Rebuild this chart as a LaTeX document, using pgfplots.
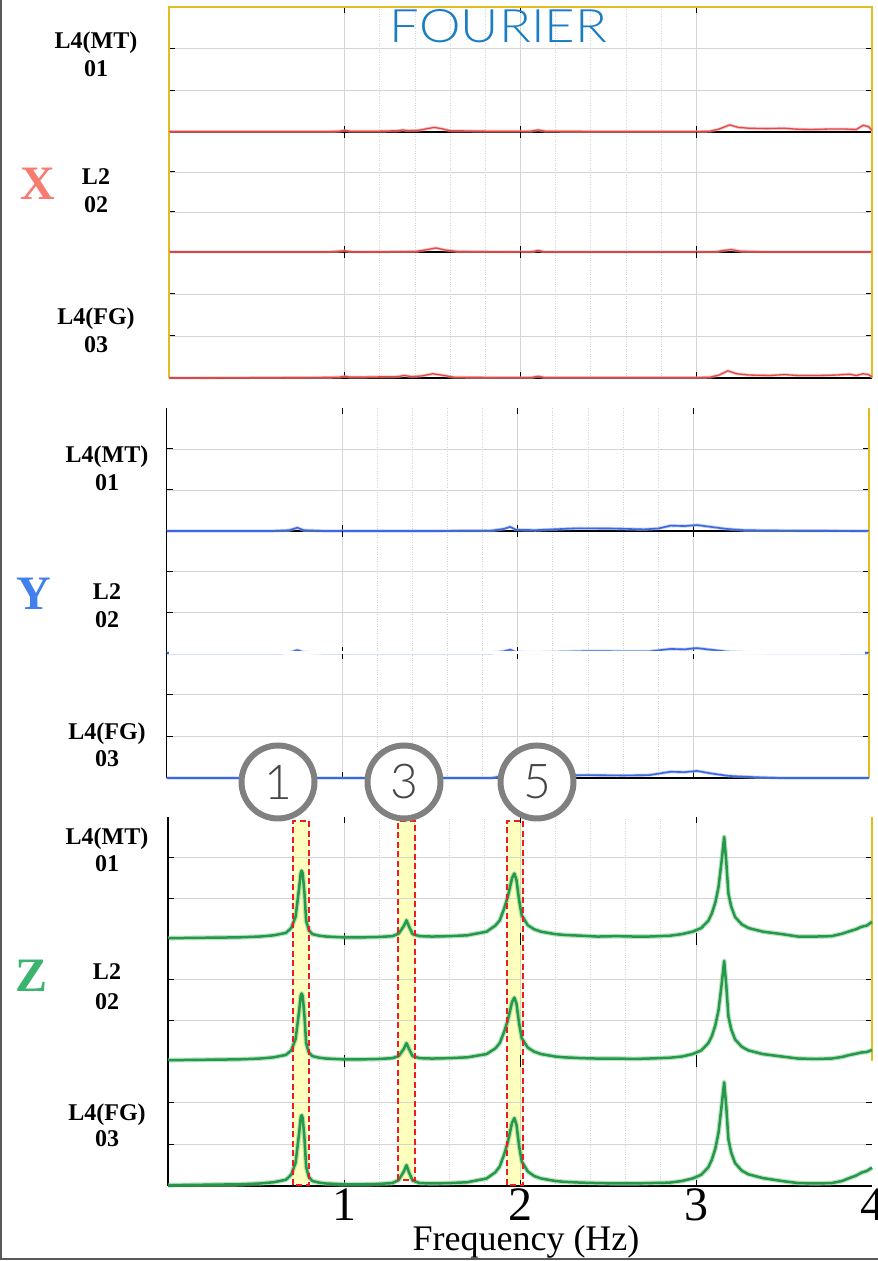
\documentclass[border=0pt]{standalone}
\usepackage{fontspec}
\setmainfont{Liberation Serif}
\newfontfamily\tickfont{Liberation Serif}
\IfFontExistsTF{Lato Light}{\newfontfamily\thinfont{Lato Light}}{\newfontfamily\thinfont{Lato}}
\usepackage{graphicx}
\usepackage{pgfplots}
\usepackage{pgfplotstable}
\pgfplotsset{compat=1.18}

\definecolor{gridgray}{RGB}{212,212,212}
\definecolor{frameyellow}{RGB}{228,188,30}
\definecolor{xred}{RGB}{226,72,72}
\definecolor{xpink}{RGB}{242,160,160}
\definecolor{yblue}{RGB}{62,104,222}
\definecolor{ylight}{RGB}{150,178,240}
\definecolor{zgreen}{RGB}{38,152,74}
\definecolor{zlight}{RGB}{130,205,145}
\definecolor{labX}{RGB}{248,122,112}
\definecolor{labY}{RGB}{66,128,238}
\definecolor{labZ}{RGB}{58,180,110}
\definecolor{fourier}{RGB}{26,125,196}
\definecolor{hilite}{RGB}{255,255,190}
\definecolor{boxred}{RGB}{238,28,28}
\definecolor{ringgray}{RGB}{128,128,128}
\definecolor{digitgray}{RGB}{70,70,70}
\definecolor{framegray}{RGB}{90,90,90}

% ---------- spectra (amplitude in grid units, 3 units per panel) ----------
\pgfplotstableread{
f a
0 0.01
0.50 0.01
0.90 0.01
0.97 0.02
1.00 0.04
1.03 0.02
1.20 0.02
1.30 0.03
1.33 0.05
1.36 0.03
1.42 0.04
1.47 0.08
1.51 0.11
1.55 0.08
1.60 0.03
1.80 0.02
2.06 0.02
2.10 0.05
2.14 0.02
2.50 0.01
3.00 0.01
3.08 0.02
3.13 0.07
3.19 0.17
3.24 0.11
3.30 0.09
3.40 0.08
3.50 0.09
3.56 0.07
3.65 0.06
3.75 0.07
3.85 0.07
3.91 0.06
3.95 0.16
3.98 0.13
4.00 0.04
}\xA
\pgfplotstableread{
f a
0 0.00
0.90 0.00
1.00 0.03
1.05 0.00
1.40 0.01
1.47 0.06
1.52 0.10
1.57 0.05
1.65 0.01
2.06 0.00
2.10 0.04
2.14 0.00
3.10 0.00
3.16 0.04
3.20 0.06
3.25 0.02
3.40 0.00
4.00 0.00
}\xB
\pgfplotstableread{
f a
0 0.00
0.80 0.01
0.97 0.02
1.00 0.04
1.03 0.02
1.30 0.03
1.34 0.06
1.38 0.03
1.44 0.05
1.50 0.10
1.55 0.07
1.62 0.02
1.90 0.01
2.06 0.01
2.10 0.04
2.14 0.01
3.00 0.01
3.08 0.02
3.13 0.07
3.18 0.17
3.23 0.10
3.30 0.07
3.42 0.06
3.50 0.08
3.58 0.06
3.70 0.06
3.80 0.07
3.87 0.09
3.91 0.06
3.95 0.10
3.98 0.08
4.00 0.03
}\xC
\pgfplotstableread{
f a
0 0.00
0.60 0.00
0.70 0.02
0.745 0.08
0.78 0.02
0.90 0.00
1.50 0.00
1.85 0.01
1.92 0.05
1.957 0.10
1.99 0.03
2.10 0.02
2.20 0.04
2.34 0.065
2.53 0.06
2.72 0.04
2.80 0.06
2.87 0.13
2.95 0.12
3.02 0.145
3.10 0.10
3.19 0.05
3.29 0.02
3.50 0.01
4.00 0.00
}\yA
\pgfplotstableread{
f a
0 0.00
0.65 0.00
0.71 0.02
0.745 0.07
0.78 0.02
0.90 0.00
1.85 0.00
1.92 0.04
1.957 0.08
1.99 0.02
2.10 0.01
2.25 0.03
2.40 0.045
2.60 0.04
2.75 0.04
2.87 0.10
2.95 0.09
3.02 0.12
3.10 0.08
3.20 0.03
3.30 0.01
4.00 0.00
}\yB
\pgfplotstableread{
f a
0 0.00
0.70 0.00
0.745 0.07
0.79 0.00
1.85 0.00
1.957 0.08
2.05 0.04
2.20 0.06
2.40 0.07
2.60 0.06
2.75 0.07
2.87 0.15
2.95 0.14
3.02 0.17
3.10 0.11
3.20 0.05
3.35 0.02
3.50 0.00
4.00 0.00
}\yC
\pgfplotstableread{
f a
0 0.02
0.2 0.03
0.4 0.04
0.52 0.06
0.6 0.09
0.67 0.15
0.70 0.27
0.725 0.55
0.745 1.25
0.754 1.62
0.759 1.68
0.765 1.62
0.775 1.15
0.785 0.45
0.80 0.22
0.82 0.12
0.86 0.08
0.9 0.06
1.0 0.04
1.1 0.04
1.2 0.05
1.275 0.07
1.31 0.13
1.34 0.32
1.355 0.46
1.37 0.30
1.39 0.12
1.43 0.07
1.5 0.06
1.6 0.07
1.7 0.09
1.81 0.18
1.86 0.33
1.885 0.46
1.91 0.75
1.93 1.03
1.955 1.50
1.968 1.61
1.98 1.45
1.995 0.95
2.01 0.58
2.044 0.34
2.08 0.24
2.12 0.18
2.2 0.12
2.25 0.10
2.35 0.08
2.44 0.06
2.55 0.07
2.65 0.06
2.73 0.06
2.85 0.08
2.92 0.12
2.98 0.18
3.03 0.27
3.07 0.45
3.09 0.63
3.11 0.9
3.128 1.28
3.145 1.9
3.16 2.51
3.172 1.9
3.184 1.12
3.20 0.8
3.222 0.54
3.26 0.36
3.298 0.27
3.38 0.18
3.488 0.12
3.58 0.06
3.68 0.06
3.77 0.07
3.83 0.13
3.865 0.18
3.91 0.24
3.94 0.30
3.97 0.33
4.0 0.42
}\zA
\pgfplotstableread{
f a
0 0.02
0.2 0.03
0.4 0.04
0.52 0.06
0.6 0.09
0.67 0.15
0.70 0.26
0.725 0.54
0.745 1.23
0.754 1.60
0.759 1.66
0.765 1.60
0.775 1.13
0.785 0.44
0.80 0.21
0.82 0.12
0.86 0.08
0.9 0.06
1.0 0.04
1.1 0.04
1.2 0.05
1.275 0.07
1.31 0.12
1.34 0.30
1.355 0.44
1.37 0.29
1.39 0.12
1.43 0.07
1.5 0.06
1.6 0.07
1.7 0.09
1.81 0.17
1.86 0.31
1.885 0.44
1.91 0.72
1.93 0.99
1.955 1.45
1.968 1.56
1.98 1.41
1.995 0.92
2.01 0.56
2.044 0.33
2.08 0.23
2.12 0.17
2.2 0.11
2.25 0.09
2.35 0.07
2.44 0.06
2.55 0.06
2.65 0.05
2.73 0.06
2.85 0.08
2.92 0.11
2.98 0.17
3.03 0.26
3.07 0.44
3.09 0.61
3.11 0.88
3.128 1.25
3.145 1.86
3.16 2.46
3.172 1.86
3.184 1.10
3.20 0.78
3.222 0.53
3.26 0.35
3.298 0.26
3.38 0.17
3.488 0.11
3.58 0.06
3.68 0.05
3.77 0.06
3.83 0.10
3.865 0.14
3.91 0.18
3.94 0.21
3.97 0.22
4.0 0.27
}\zB
\pgfplotstableread{
f a
0 0.02
0.2 0.03
0.4 0.04
0.52 0.06
0.6 0.09
0.67 0.15
0.70 0.27
0.725 0.56
0.745 1.27
0.754 1.64
0.759 1.70
0.765 1.64
0.775 1.17
0.785 0.46
0.80 0.22
0.82 0.12
0.86 0.08
0.9 0.06
1.0 0.04
1.1 0.04
1.2 0.05
1.275 0.07
1.31 0.14
1.34 0.35
1.355 0.50
1.37 0.32
1.39 0.13
1.43 0.07
1.5 0.06
1.6 0.07
1.7 0.09
1.81 0.18
1.86 0.33
1.885 0.47
1.91 0.76
1.93 1.04
1.955 1.52
1.968 1.63
1.98 1.47
1.995 0.96
2.01 0.59
2.044 0.35
2.08 0.24
2.12 0.18
2.2 0.12
2.25 0.10
2.35 0.08
2.44 0.07
2.55 0.06
2.65 0.06
2.73 0.07
2.85 0.08
2.92 0.12
2.98 0.18
3.03 0.27
3.07 0.45
3.09 0.63
3.11 0.90
3.128 1.28
3.145 1.90
3.16 2.49
3.172 1.90
3.184 1.12
3.20 0.80
3.222 0.55
3.26 0.37
3.298 0.28
3.38 0.19
3.488 0.12
3.58 0.07
3.68 0.06
3.77 0.07
3.83 0.12
3.865 0.18
3.91 0.25
3.94 0.32
3.97 0.36
4.0 0.44
}\zC

\pgfplotsset{
  panel/.style={
    scale only axis, clip=false,
    xmin=0, xmax=4, ymin=0, ymax=3,
    xtick={1,2,3}, ytick={1,2}, minor x tick num=4,
    xticklabels={}, yticklabels={},
    xmajorgrids, ymajorgrids, xminorgrids,
    major grid style={draw=gridgray, line width=0.9pt},
    minor grid style={draw=gridgray, dotted, line width=0.9pt},
    tick align=inside, tick pos=both,
    major tick length=6pt, minor tick length=0pt,
    every tick/.style={black, line width=1pt},
    axis line style={draw=none},
  },
  xcurve/.style={xred, line width=1.3pt, line join=round},
  xhalo/.style={xpink, line width=3pt, opacity=0.6, line join=round},
  ycurve/.style={yblue, line width=1.6pt, line join=round},
  yhalo/.style={ylight, line width=3.2pt, opacity=0.6, line join=round},
  zcurve/.style={zgreen, line width=2.5pt, line join=round},
  zhalo/.style={zlight, line width=4.8pt, opacity=0.55, line join=round},
  overlay/.style={scale only axis, hide axis, clip=false,
    xmin=0, xmax=4, ymin=0, ymax=1},
}

\newcommand{\panellabel}{\fontsize{24}{27}\bfseries}
\newcommand{\dirlabel}{\fontsize{48}{48}\bfseries}

\begin{document}
\begin{tikzpicture}
\useasboundingbox (0pt,0pt) rectangle (878pt,1261pt);

% ---------- highlighted modes (fill, below the Z spectra) ----------
\begin{axis}[overlay, at={(168pt,75pt)}, width=704pt, height=369pt]
  \fill[hilite] (axis cs:0.710,0.003) rectangle (axis cs:0.801,0.989);
  \fill[hilite] (axis cs:1.307,0.016) rectangle (axis cs:1.403,0.989);
  \fill[hilite] (axis cs:1.926,0.003) rectangle (axis cs:2.017,0.989);
\end{axis}

% ================= X direction =================
\begin{axis}[panel, at={(169pt,1129pt)}, width=703pt, height=125pt]
  \draw[black, line width=1.2pt] (rel axis cs:0,0) -- (rel axis cs:1,0);
  \draw[frameyellow, line width=2.6pt] (rel axis cs:0,0) -- (rel axis cs:0,1) -- (rel axis cs:1,1) -- (rel axis cs:1,0);
  \addplot[xhalo] table {\xA};
  \addplot[xcurve] table {\xA};
\end{axis}
\begin{axis}[panel, at={(169pt,1009pt)}, width=703pt, height=120pt]
  \draw[black, line width=1.2pt] (rel axis cs:0,0) -- (rel axis cs:1,0);
  \draw[frameyellow, line width=2.6pt] (rel axis cs:0,0) -- (rel axis cs:0,1);
  \draw[frameyellow, line width=2.6pt] (rel axis cs:1,0) -- (rel axis cs:1,1);
  \addplot[xhalo] table {\xB};
  \addplot[xcurve] table {\xB};
\end{axis}
\begin{axis}[panel, at={(169pt,883pt)}, width=703pt, height=126pt]
  \draw[black, line width=1.2pt] (rel axis cs:0,0) -- (rel axis cs:1,0);
  \draw[frameyellow, line width=2.6pt] (rel axis cs:0,0) -- (rel axis cs:0,1);
  \draw[frameyellow, line width=2.6pt] (rel axis cs:1,0) -- (rel axis cs:1,1);
  \addplot[xhalo] table {\xC};
  \addplot[xcurve] table {\xC};
\end{axis}

% ================= Y direction =================
\begin{axis}[panel, at={(166.5pt,730pt)}, width=702.5pt, height=123pt]
  \draw[black, line width=1.2pt] (rel axis cs:0,0) -- (rel axis cs:1,0);
  \draw[black, line width=1.2pt] (rel axis cs:0,0) -- (rel axis cs:0,1);
  \draw[frameyellow, line width=2.6pt] (rel axis cs:1,0) -- (rel axis cs:1,1);
  \addplot[yhalo] table {\yA};
  \addplot[ycurve] table {\yA};
\end{axis}
\begin{axis}[panel, at={(166.5pt,608pt)}, width=702.5pt, height=122pt]
  \draw[black, line width=1.2pt] (rel axis cs:0,0) -- (rel axis cs:0,1);
  \draw[frameyellow, line width=2.6pt] (rel axis cs:1,0) -- (rel axis cs:1,1);
  \addplot[yhalo] table {\yB};
  \addplot[ycurve] table {\yB};
\end{axis}
\begin{axis}[panel, at={(166.5pt,483pt)}, width=702.5pt, height=125pt]
  % the lowest panel's top edge masks the flat part of the panel above
  \fill[white] (rel axis cs:0.003,0.989) rectangle (rel axis cs:0.995,1.013);
  \draw[black, line width=1.2pt] (rel axis cs:0,0) -- (rel axis cs:1,0);
  \draw[black, line width=1.2pt] (rel axis cs:0,0) -- (rel axis cs:0,1);
  \draw[frameyellow, line width=2.6pt] (rel axis cs:1,0) -- (rel axis cs:1,1);
  \addplot[yhalo] table {\yC};
  \addplot[ycurve] table {\yC};
\end{axis}

% ================= Z direction =================
\begin{axis}[panel, at={(168pt,322pt)}, width=704pt, height=122pt]
  \draw[black, line width=1.2pt] (rel axis cs:0,0) -- (rel axis cs:0,1);
  \draw[frameyellow, line width=2.6pt] (rel axis cs:1,0) -- (rel axis cs:1,1);
  \addplot[zhalo] table {\zA};
  \addplot[zcurve] table {\zA};
\end{axis}
\begin{axis}[panel, at={(168pt,200pt)}, width=704pt, height=122pt]
  \draw[black, line width=1.2pt] (rel axis cs:0,0) -- (rel axis cs:0,1);
  \draw[frameyellow, line width=2.6pt] (rel axis cs:1,0) -- (rel axis cs:1,1);
  \addplot[zhalo] table {\zB};
  \addplot[zcurve] table {\zB};
\end{axis}
\begin{axis}[panel, at={(168pt,75pt)}, width=704pt, height=125pt,
    xticklabels={1,2,3},
    extra x ticks={4}, extra x tick labels={4},
    extra x tick style={xmajorgrids=false, major tick length=0pt},
    /pgf/number format/assume math mode=true,
    xticklabel style={font=\fontsize{48}{48}\tickfont, anchor=base, yshift=-35pt}]
  \draw[black, line width=1.2pt] (rel axis cs:0,0) -- (rel axis cs:1,0);
  \draw[black, line width=1.2pt] (rel axis cs:0,0) -- (rel axis cs:0,1);
  \addplot[zhalo] table {\zC};
  \addplot[zcurve] table {\zC};
\end{axis}

% ---------- highlighted modes (dashed outlines, above the spectra) ----------
\begin{axis}[overlay, at={(168pt,75pt)}, width=704pt, height=369pt]
  \draw[boxred, line width=1.8pt, dash pattern=on 6pt off 3.5pt]
    (axis cs:0.710,0.003) rectangle (axis cs:0.801,0.989);
  \draw[boxred, line width=1.8pt, dash pattern=on 6pt off 3.5pt]
    (axis cs:1.307,0.016) rectangle (axis cs:1.403,0.989);
  \draw[boxred, line width=1.8pt, dash pattern=on 6pt off 3.5pt]
    (axis cs:1.926,0.003) rectangle (axis cs:2.017,0.989);
\end{axis}

% ---------- mode numbers ----------
\foreach \cx/\num in {278/1, 404/3, 537/5}{
  \draw[ringgray, line width=6pt, fill=white] (\cx pt,479pt) circle (36.5pt);
  \node[text=digitgray, inner sep=0pt] at (\cx pt,479pt) {\fontsize{48}{48}\thinfont\num};
}

% ---------- titles and labels ----------
\node[anchor=base, inner sep=0pt] at (498.5pt,1218pt)
  {\color{fourier}\resizebox{217pt}{33pt}{\thinfont FOURIER}};

\node[anchor=base, text=labX, inner sep=0pt] at (38pt,1061pt) {\dirlabel X};
\node[anchor=base, text=labY, inner sep=0pt] at (34pt,651pt) {\dirlabel Y};
\node[anchor=base, text=labZ, inner sep=0pt] at (32pt,269pt) {\dirlabel Z};

\foreach \cx/\ya/\yb/\ta/\tb in {
   96/1212/1184/L4(MT)/01, 96/1076/1048/L2/02, 96/936/908/L4(FG)/03,
  107/798/770/L4(MT)/01, 107/661/633/L2/02, 107/521/494/L4(FG)/03,
  107/416/389/L4(MT)/01, 107/281/251/L2/02, 107/140/114/L4(FG)/03}{
  \node[anchor=base, inner sep=0pt] at (\cx pt,\ya pt) {\panellabel \ta};
  \node[anchor=base, inner sep=0pt] at (\cx pt,\yb pt) {\panellabel \tb};
}

\node[anchor=base, inner sep=0pt] at (526pt,10pt) {\fontsize{36}{36}\selectfont Frequency (Hz)};

% ---------- outer frame ----------
\draw[framegray, line width=2pt] (1pt,1261pt) -- (1pt,2pt) -- (878pt,2pt);
\end{tikzpicture}
\end{document}
